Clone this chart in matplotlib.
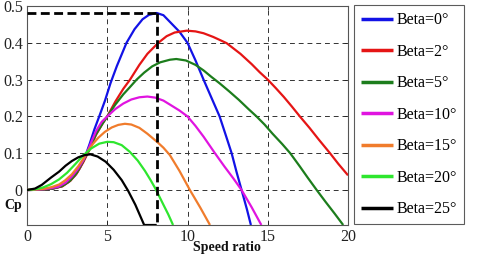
import matplotlib
matplotlib.use("Agg")
import matplotlib.pyplot as plt

# ---- data ----
labels = ["Beta=0°", "Beta=2°", "Beta=5°", "Beta=10°", "Beta=15°", "Beta=20°", "Beta=25°"]
colors = ["#1212e6", "#e51515", "#1c7d1c", "#e014e0", "#f07c2c", "#2ee62e", "#000000"]

b0_x = [0, 1.0, 1.6, 2.16, 2.6, 3.0, 3.3, 3.6, 3.9, 4.2, 4.5, 4.86, 5.2, 5.6, 6.2, 6.7, 7.2, 7.6, 8.08,
        8.5, 8.9, 9.5, 10.0, 10.5, 11.0, 11.5, 12.0, 12.4, 12.75, 13.05, 13.37, 13.7, 13.95]
b0_y = [0, 0.001, 0.004, 0.01, 0.022, 0.04, 0.06, 0.088, 0.125, 0.165, 0.2, 0.243, 0.29, 0.337, 0.4, 0.437,
        0.464, 0.476, 0.481, 0.475, 0.457, 0.43, 0.4, 0.352, 0.3, 0.25, 0.2, 0.147, 0.1, 0.05, 0.0, -0.052, -0.095]

b2_x = [0, 1.0, 1.6, 2.2, 2.7, 3.1, 3.5, 3.9, 4.3, 4.7, 5.0, 5.5, 6.0, 6.42, 7.0, 7.5, 8.18, 8.7, 9.2, 9.95,
        10.5, 11.0, 11.6, 12.0, 12.44, 13.3, 14.0, 14.5, 15.0, 15.5, 16.0, 16.5, 17.0, 17.6, 18.2, 18.88, 19.4, 20.0]
b2_y = [0, 0.001, 0.004, 0.01, 0.025, 0.045, 0.075, 0.11, 0.15, 0.18, 0.2, 0.24, 0.275, 0.3, 0.34, 0.37, 0.4,
        0.418, 0.428, 0.433, 0.431, 0.426, 0.416, 0.408, 0.399, 0.37, 0.342, 0.32, 0.3, 0.277, 0.253, 0.227,
        0.2, 0.169, 0.136, 0.1, 0.071, 0.04]

b5_x = [0, 1.0, 1.6, 2.2, 2.7, 3.1, 3.5, 3.9, 4.3, 4.7, 5.0, 5.5, 6.0, 6.4, 6.83, 7.3, 7.8, 8.3, 8.9, 9.3,
        9.9, 10.5, 11.0, 11.5, 12.0, 12.6, 13.2, 13.8, 14.3, 14.8, 15.3, 15.9, 16.4, 17.0, 17.5, 18.05, 18.6,
        19.15, 19.7]
b5_y = [0, 0.001, 0.004, 0.011, 0.026, 0.047, 0.078, 0.113, 0.152, 0.18, 0.2, 0.232, 0.26, 0.279, 0.3, 0.319,
        0.336, 0.347, 0.354, 0.356, 0.352, 0.34, 0.325, 0.307, 0.29, 0.268, 0.245, 0.22, 0.2, 0.178, 0.153,
        0.125, 0.1, 0.064, 0.033, 0.0, -0.032, -0.063, -0.095]

b10_x = [0, 1.0, 1.5, 1.95, 2.4, 2.78, 3.15, 3.51, 3.8, 4.03, 4.3, 4.65, 5.0, 5.5, 6.0, 6.5, 7.0, 7.5, 8.0,
         8.5, 8.91, 9.5, 10.0, 10.5, 11.0, 11.71, 12.3, 12.85, 13.37, 14.0, 14.6]
b10_y = [0, 0.002, 0.005, 0.009, 0.02, 0.036, 0.056, 0.081, 0.108, 0.133, 0.16, 0.185, 0.2, 0.22, 0.235,
         0.246, 0.252, 0.254, 0.251, 0.243, 0.232, 0.216, 0.2, 0.174, 0.145, 0.1, 0.064, 0.032, 0.0, -0.047, -0.095]

b15_x = [0, 1.0, 1.54, 2.0, 2.37, 2.8, 3.2, 3.5, 3.82, 4.1, 4.44, 4.85, 5.28, 5.69, 6.1, 6.5, 7.0, 7.5, 8.1,
         8.5, 8.9, 9.5, 10.15, 10.8, 11.4]
b15_y = [0, 0.003, 0.008, 0.015, 0.026, 0.043, 0.065, 0.085, 0.108, 0.125, 0.142, 0.158, 0.17, 0.177, 0.18,
         0.178, 0.169, 0.153, 0.131, 0.115, 0.095, 0.052, 0.0, -0.048, -0.095]

b20_x = [0, 0.5, 1.0, 1.5, 2.0, 2.5, 3.0, 3.5, 4.0, 4.5, 5.0, 5.4, 5.9, 6.4, 6.9, 7.35, 7.7, 8.0, 8.5, 8.8, 9.1]
b20_y = [0, 0.002, 0.007, 0.016, 0.029, 0.047, 0.07, 0.094, 0.113, 0.126, 0.131, 0.13, 0.122, 0.104, 0.08,
         0.052, 0.027, 0.004, -0.04, -0.066, -0.095]

b25_x = [0, 0.5, 0.92, 1.5, 2.0, 2.4, 2.8, 3.2, 3.6, 3.95, 4.4, 4.9, 5.4, 5.9, 6.3, 6.75, 7.05, 7.3, 8.08]
b25_y = [0, 0.004, 0.014, 0.034, 0.05, 0.066, 0.079, 0.089, 0.095, 0.097, 0.091, 0.077, 0.055, 0.027, -0.002,
         -0.04, -0.07, -0.095, -0.095]

series_x = [b0_x, b2_x, b5_x, b10_x, b15_x, b20_x, b25_x]
series_y = [b0_y, b2_y, b5_y, b10_y, b15_y, b20_y, b25_y]

opt_lambda = 8.08
opt_cp = 0.48

x_ticks = [0, 5, 10, 15, 20]
y_ticks = [0, 0.1, 0.2, 0.3, 0.4, 0.5]
y_ticklabels = ["0", "0.1", "0.2", "0.3", "0.4", "0.5"]
x_lim = (0, 20)
y_lim = (-0.095, 0.5)

# ---- figure ----
W, H = 480, 258
fig = plt.figure(figsize=(W / 100, H / 100), dpi=100)
fig.patch.set_facecolor("white")
serif = ["Liberation Serif", "DejaVu Serif"]

ax = fig.add_axes([27 / W, 1 - 225 / H, (348 - 27) / W, (225 - 6) / H])
lines = []
for xs, ys, c, lab in zip(series_x, series_y, colors, labels):
    ln, = ax.plot(xs, ys, color=c, lw=1.6, label=lab, solid_capstyle="butt",
                  solid_joinstyle="round", zorder=3)
    lines.append(ln)

ax.plot([x_lim[0], opt_lambda], [opt_cp, opt_cp], color="black", lw=2.0,
        linestyle=(0, (3.2, 1.6)), zorder=4)
ax.plot([opt_lambda, opt_lambda], [opt_cp, y_lim[0]], color="black", lw=2.0,
        linestyle=(0, (3.2, 1.6)), zorder=4)

ax.set_xlim(*x_lim)
ax.set_ylim(*y_lim)
ax.set_xticks(x_ticks)
ax.set_yticks(y_ticks)
ax.set_yticklabels(y_ticklabels)
ax.grid(True, color="#333333", lw=0.7, linestyle=(0, (5, 4)))
ax.tick_params(direction="in", length=3, width=0.6, top=True, right=True, pad=3,
               labelsize=11.5, colors="#222222")
for lab in ax.get_xticklabels() + ax.get_yticklabels():
    lab.set_family(serif)
for sp in ax.spines.values():
    sp.set_color("#555555")
    sp.set_linewidth(0.8)

fig.text(13 / W, 1 - 205 / H, "Cp", family=serif, fontweight="bold", fontsize=10,
         ha="center", va="center", color="#111111")
fig.text(227 / W, 1 - 248 / H, "Speed ratio", family=serif, fontweight="bold", fontsize=10,
         ha="center", va="center", color="#111111")

leg = ax.legend(handles=lines, loc="upper left", bbox_to_anchor=(354 / W, 1 - 5 / H),
                bbox_transform=fig.transFigure, borderaxespad=0, frameon=True, fancybox=False,
                edgecolor="#333333", prop={"family": serif, "size": 11.5}, handlelength=2.0,
                handletextpad=0.2, labelspacing=0.97, borderpad=0.45)
leg.get_frame().set_linewidth(0.8)
for h in leg.get_lines():
    h.set_linewidth(2.5)

fig.savefig("out.png", dpi=100)
